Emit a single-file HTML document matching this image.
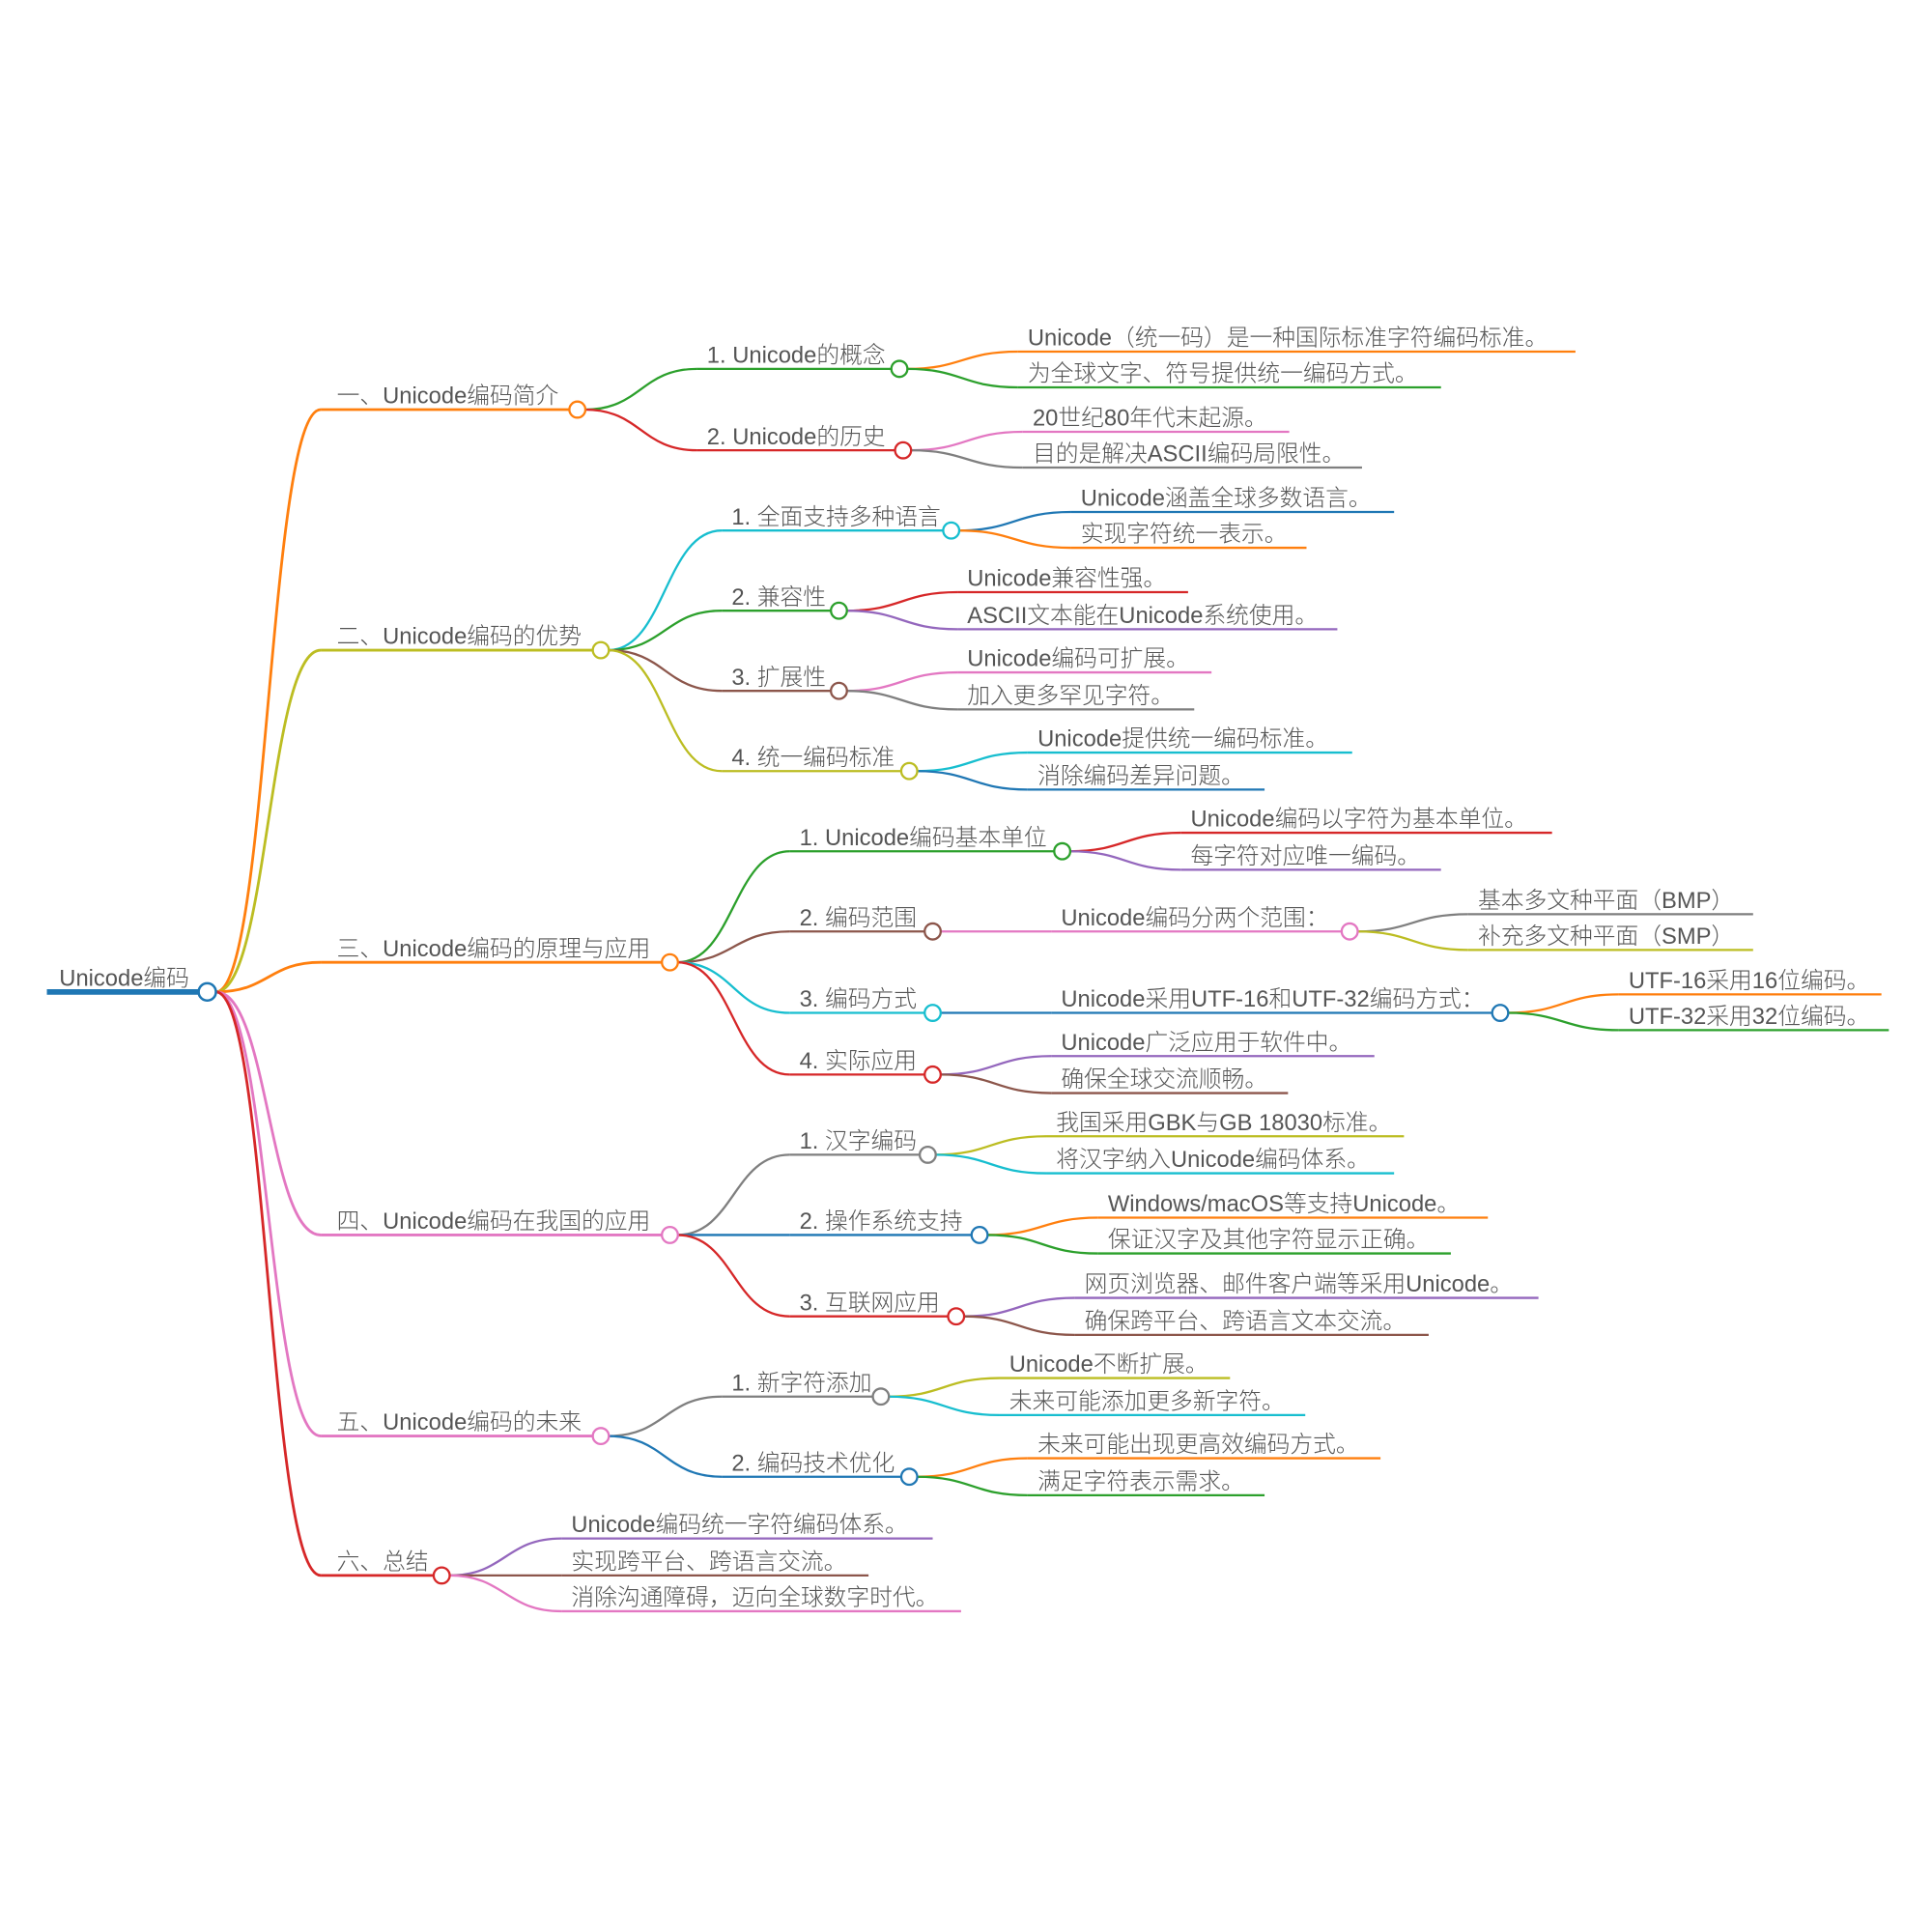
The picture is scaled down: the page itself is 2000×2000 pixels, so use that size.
<!DOCTYPE html>
<html><head><meta charset="utf-8"><style>
html,body{margin:0;padding:0;background:#fff;}
svg{display:block;}
text{font-family:"Liberation Sans","Noto Sans CJK SC",sans-serif;font-size:18.6px;fill:#555;font-weight:300;}
</style></head><body>
<svg id="s" width="2000" height="2000" viewBox="0 0 1566 1566" xmlns="http://www.w3.org/2000/svg"></svg>
<script>
const O='#ff7f0e',G='#2ca02c',R='#d62728',P='#e377c2',Y='#7f7f7f',B='#1f77b4',C='#17becf',L='#bcbd22',U='#9467bd',N='#8c564b';
const tree=[
["一、Unicode编码简介",332,260,468,O,[
 ["1. Unicode的概念",299,565,729,G,[["Unicode（统一码）是一种国际标准字符编码标准。",285,825,1277,O],["为全球文字、符号提供统一编码方式。",314,825,1168,G]]],
 ["2. Unicode的历史",365,565,732,R,[["20世纪80年代末起源。",350,829,1045,P],["目的是解决ASCII编码局限性。",379,829,1104,Y]]]]],
["二、Unicode编码的优势",527,260,487,L,[
 ["1. 全面支持多种语言",430,585,771,C,[["Unicode涵盖全球多数语言。",415,868,1130,B],["实现字符统一表示。",444,868,1059,O]]],
 ["2. 兼容性",495,585,680,G,[["Unicode兼容性强。",480,776,963,R],["ASCII文本能在Unicode系统使用。",510,776,1084,U]]],
 ["3. 扩展性",560,585,680,N,[["Unicode编码可扩展。",545,776,982,P],["加入更多罕见字符。",575,776,968,Y]]],
 ["4. 统一编码标准",625,585,737,L,[["Unicode提供统一编码标准。",610,833,1096,C],["消除编码差异问题。",640,833,1025,B]]]]],
["三、Unicode编码的原理与应用",780,260,543,O,[
 ["1. Unicode编码基本单位",690,640,861,G,[["Unicode编码以字符为基本单位。",675,957,1258,R],["每字符对应唯一编码。",705,957,1168,U]]],
 ["2. 编码范围",755,640,756,N,[["Unicode编码分两个范围：",755,852,1094,P,[["基本多文种平面（BMP）",741,1190,1421,Y],["补充多文种平面（SMP）",770,1190,1421,L]]]]],
 ["3. 编码方式",821,640,756,C,[["Unicode采用UTF-16和UTF-32编码方式：",821,852,1216,B,[["UTF-16采用16位编码。",806,1312,1525,O],["UTF-32采用32位编码。",835,1312,1531,G]]]]],
 ["4. 实际应用",871,640,756,R,[["Unicode广泛应用于软件中。",856,852,1114,U],["确保全球交流顺畅。",886,852,1044,N]]]]],
["四、Unicode编码在我国的应用",1001,260,543,P,[
 ["1. 汉字编码",936,640,752,Y,[["我国采用GBK与GB 18030标准。",921,848,1138,L],["将汉字纳入Unicode编码体系。",951,848,1130,C]]],
 ["2. 操作系统支持",1001,640,794,B,[["Windows/macOS等支持Unicode。",987,890,1206,O],["保证汉字及其他字符显示正确。",1016,890,1176,G]]],
 ["3. 互联网应用",1067,640,775,R,[["网页浏览器、邮件客户端等采用Unicode。",1052,871,1247,U],["确保跨平台、跨语言文本交流。",1082,871,1158,N]]]]],
["五、Unicode编码的未来",1164,260,487,P,[
 ["1. 新字符添加",1132,585,714,Y,[["Unicode不断扩展。",1117,810,997,L],["未来可能添加更多新字符。",1147,810,1058,C]]],
 ["2. 编码技术优化",1197,585,737,B,[["未来可能出现更高效编码方式。",1182,833,1119,O],["满足字符表示需求。",1212,833,1025,G]]]]],
["六、总结",1277,260,358,R,[["Unicode编码统一字符编码体系。",1247,455,756,U],["实现跨平台、跨语言交流。",1277,455,704,N],["消除沟通障碍，迈向全球数字时代。",1306,455,779,P]]]
];
let lines='',circles='',texts='';
function node(n,px,py,pc,depth){
  const [t,y,x0,x1,c,ch]=n;
  const sx=px+(depth==1?7:6);
  if(Math.abs(y-py)<0.5){lines+=`<path d="M${sx} ${py} L${x0} ${y}" stroke="${c}" stroke-width="1.8" fill="none"/>`;}
  else{const m=(x0-sx)*0.5;lines+=`<path d="M${sx} ${py} C${sx+m} ${py} ${x0-m} ${y} ${x0} ${y}" stroke="${c}" stroke-width="${depth==1?2.2:1.8}" fill="none"/>`;}
  const ex=ch?x1-6.5:x1;
  lines+=`<line x1="${x0}" y1="${y}" x2="${ex}" y2="${y}" stroke="${c}" stroke-width="${depth==1?2.2:1.8}"/>`;
  const tx=Math.abs(y-py)<0.5&&depth>1?x0+8:x0+(depth==1?13:8);
  texts+=`<text x="${tx}" y="${y-5}">${t}</text>`;
  if(ch){circles+=`<circle cx="${x1}" cy="${y}" r="6.5" fill="#fff" stroke="${c}" stroke-width="1.8"/>`;
    ch.forEach(k=>node(k,x1,y,c,depth+1));}
}
tree.forEach(n=>node(n,168,804,B,1));
lines+=`<line x1="38" y1="804" x2="162" y2="804" stroke="${B}" stroke-width="4.5"/>`;
circles+=`<circle cx="168" cy="804" r="7" fill="#fff" stroke="${B}" stroke-width="2"/>`;
texts+=`<text x="48" y="799">Unicode编码</text>`;
document.getElementById('s').innerHTML=lines+circles+texts;
</script>
</body></html>
